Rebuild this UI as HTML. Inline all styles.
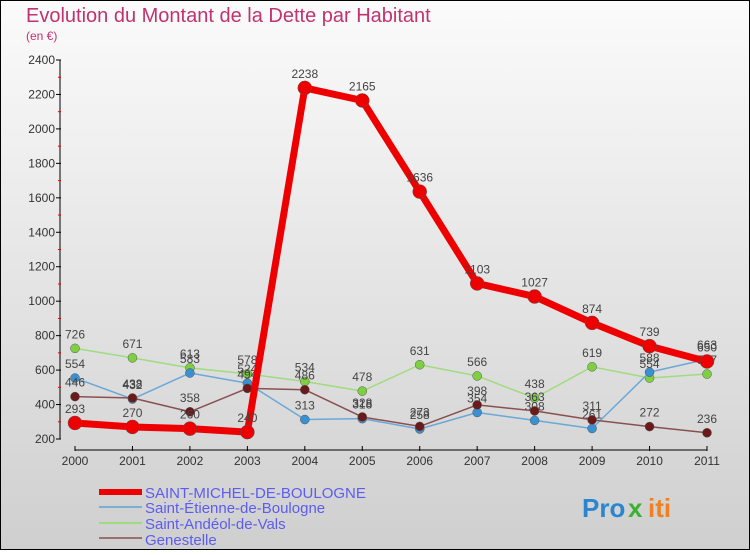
<!DOCTYPE html>
<html><head><meta charset="utf-8">
<style>
html,body{margin:0;padding:0;}
body{width:750px;height:550px;overflow:hidden;font-family:"Liberation Sans",sans-serif;}
svg text{font-family:"Liberation Sans",sans-serif;}
</style></head>
<body>
<svg id="chart" width="750" height="550" viewBox="0 0 750 550" xmlns="http://www.w3.org/2000/svg">
<defs>
<linearGradient id="bg" x1="0" y1="0" x2="0" y2="1">
<stop offset="0" stop-color="#fbfbfb"/><stop offset="1" stop-color="#cfcfcf"/>
</linearGradient>
</defs>
<rect x="0.5" y="0.5" width="749" height="549" fill="url(#bg)" stroke="#000"/>
<text x="26" y="22" font-size="20" fill="#c0336e">Evolution du Montant de la Dette par Habitant</text>
<text x="26" y="40" font-size="12" fill="#c0336e">(en €)</text>
<g id="plot"></g>
<g id="legend">
<rect x="99" y="489" width="43" height="6" fill="#e00"/>
<line x1="99" y1="507" x2="142" y2="507" stroke="#7aaed3" stroke-width="2"/>
<line x1="99" y1="523" x2="142" y2="523" stroke="#9fdc7e" stroke-width="2"/>
<line x1="99" y1="538" x2="142" y2="538" stroke="#9a7070" stroke-width="2"/>
<text x="145" y="498" font-size="15" fill="#5c5cf0">SAINT-MICHEL-DE-BOULOGNE</text>
<text x="145" y="513" font-size="15" fill="#5c5cf0">Saint-Étienne-de-Boulogne</text>
<text x="145" y="529" font-size="15" fill="#5c5cf0">Saint-Andéol-de-Vals</text>
<text x="145" y="545" font-size="15" fill="#5c5cf0">Genestelle</text>
</g>
<g font-size="26" font-weight="bold">
<text x="582" y="517" fill="#2a86d0">Pro</text><text x="628" y="517" fill="#3cb030">x</text><text x="648" y="517" fill="#f08020">iti</text>
</g>
</svg>
<script>
const years = [2000,2001,2002,2003,2004,2005,2006,2007,2008,2009,2010,2011];
const yTicks = [200,400,600,800,1000,1200,1400,1600,1800,2000,2200,2400];
const saintMichel = [293,270,260,240,2238,2165,1636,1103,1027,874,739,650];
const saintEtienne = [554,432,583,524,313,318,258,354,308,261,588,663];
const saintAndeol = [726,671,613,578,534,478,631,566,438,619,554,577];
const genestelle = [446,438,358,494,486,328,273,398,363,311,272,236];

const NS = "http://www.w3.org/2000/svg";
const plot = document.getElementById('plot');
const x0 = 75, x1 = 707, yBase = 439, yTop = 60, vMin = 200, vMax = 2400;
function xs(i){ return x0 + (x1 - x0) * i / (years.length - 1); }
function ys(v){ return yBase - (v - vMin) * (yBase - yTop) / (vMax - vMin); }
function mk(tag, attrs){ const e = document.createElementNS(NS, tag); for (const k in attrs) e.setAttribute(k, attrs[k]); plot.appendChild(e); return e; }

// axes
let ax = mk('line', {x1:60, y1:yTop, x2:60, y2:yBase, stroke:'#000', 'stroke-width':1});


let bx = mk('line', {x1:x0, y1:450, x2:x1, y2:450, stroke:'#000', 'stroke-width':1});


yTicks.forEach(function(v){
  const y = ys(v);
  const t = mk('line', {x1:56, y1:y, x2:61, y2:y, stroke:'#000'});
  
  
  const l = mk('text', {x:55, y:y + 4, 'font-size':12, fill:'#333', 'text-anchor':'end'});
  l.textContent = v;
  
  
  if (v < vMax) {
    const m = mk('line', {x1:58, y1:y - (ys(vMin) - ys(vMin + 100)), x2:61, y2:y - (ys(vMin) - ys(vMin + 100)), stroke:'#e00'});
    
    
  }
});
years.forEach(function(yr, i){
  const x = xs(i);
  const t = mk('line', {x1:x, y1:446, x2:x, y2:451, stroke:'#000'});
  
  
  const l = mk('text', {x:x, y:465, 'font-size':12, fill:'#333', 'text-anchor':'middle'});
  l.textContent = yr;
  
  
});

function series(vals, name, color, dotFill, lw, r){
  const pts = vals.map(function(v, i){ return xs(i) + ',' + ys(v); }).join(' ');
  const pl = mk('polyline', {points:pts, fill:'none', stroke:color, 'stroke-width':lw, 'stroke-linejoin':'round'});
  
  
  vals.forEach(function(v, i){
    const c = mk('circle', {cx:xs(i), cy:ys(v), r:r, fill:dotFill, stroke:'#555', 'stroke-width':0.5});
    
    
    const t = mk('text', {x:xs(i), y:ys(v) - 10, 'font-size':12, fill:'#444', 'text-anchor':'middle'});
    t.textContent = v;
    
    
  });
}
series(saintAndeol, 'saint-andeol', '#9fdc7e', '#7fd040', 1.5, 4.5);
series(saintEtienne, 'saint-etienne', '#6aa8d8', '#3a90d0', 1.5, 4.5);
series(genestelle, 'genestelle', '#8a5050', '#6a1a1a', 1.5, 4.5);
series(saintMichel, 'saint-michel', '#ee0000', '#ee0000', 7, 7);
</script>
</body></html>
